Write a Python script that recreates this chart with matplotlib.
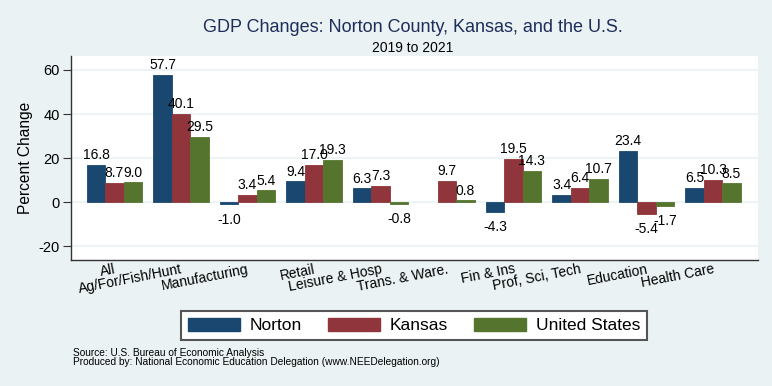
import numpy as np
import matplotlib
matplotlib.use("Agg")
import matplotlib.pyplot as plt
from matplotlib.patches import Patch

# Данные
categories = ["All", "Ag/For/Fish/Hunt", "Manufacturing", "Retail",
              "Leisure & Hosp", "Trans. & Ware.", "Fin & Ins",
              "Prof, Sci, Tech", "Education", "Health Care"]
norton = [16.8, 57.7, -1.0, 9.4, 6.3, np.nan, -4.3, 3.4, 23.4, 6.5]
kansas = [8.7, 40.1, 3.4, 17.0, 7.3, 9.7, 19.5, 6.4, -5.4, 10.3]
united_states = [9.0, 29.5, 5.4, 19.3, -0.8, 0.8, 14.3, 10.7, -1.7, 8.5]
series_names = ["Norton", "Kansas", "United States"]
y_ticks = [-20, 0, 20, 40, 60]

BG = "#EAF2F3"
COLORS = ["#1A476F", "#90353B", "#55752F"]
SANS = "Liberation Sans"
plt.rcParams["font.family"] = [SANS, "DejaVu Sans"]

fig = plt.figure(figsize=(7.72, 3.86), dpi=100, facecolor=BG)
ax = fig.add_axes([71 / 772, 1 - 260 / 386, 687 / 772, 204 / 386])
ax.set_facecolor("white")

x = np.arange(len(categories))
w = 0.276

for k, (vals, col) in enumerate(zip([norton, kansas, united_states], COLORS)):
    vals = np.array(vals, dtype=float)
    pos = x + (k - 1) * w
    ok = ~np.isnan(vals)
    ax.bar(pos[ok], vals[ok], w, color=col, edgecolor=col,
           linewidth=0.6, zorder=3)
    # Подписи значений
    for xi, v in zip(pos[ok], vals[ok]):
        if v >= 0:
            ax.annotate(f"{v:.1f}", (xi, v), xytext=(0, 2),
                        textcoords="offset points", ha="center", va="bottom",
                        fontsize=10, zorder=4)
        else:
            ax.annotate(f"{v:.1f}", (xi, v), xytext=(0, -6),
                        textcoords="offset points", ha="center", va="top",
                        fontsize=10, zorder=4)

ax.set_xlim(-0.654, len(categories) - 1 + 0.677)
ax.set_ylim(-26.2, 66.3)
ax.set_yticks(y_ticks)
ax.set_yticklabels([str(t) for t in y_ticks], fontsize=10.5)
ax.grid(True, axis="y", color=BG, linewidth=1.2, zorder=0)
ax.set_axisbelow(True)

ax.set_xticks(x)
ax.set_xticklabels(categories, rotation=11, ha="right", va="top",
                   rotation_mode="anchor", fontsize=10)
ax.tick_params(axis="x", length=0, pad=1.5)
ax.tick_params(axis="y", length=6, width=0.8, pad=2, color="#333333")

ax.set_ylabel("Percent Change", fontsize=11.2, labelpad=4)

for s in ["top", "right"]:
    ax.spines[s].set_visible(False)
for s in ["left", "bottom"]:
    ax.spines[s].set_color("#333333")
    ax.spines[s].set_linewidth(1.0)

fig.text(413 / 772, 1 - 31.5 / 386,
         "GDP Changes: Norton County, Kansas, and the U.S.",
         ha="center", va="baseline", fontsize=13, color="#1E2D5A")
fig.text(413 / 772, 1 - 51.7 / 386, "2019 to 2021",
         ha="center", va="baseline", fontsize=10, color="black")

handles = [Patch(facecolor=c, edgecolor=c) for c in COLORS]
leg = fig.legend(handles, series_names, loc="center",
                 bbox_to_anchor=(414 / 772, 1 - 325.5 / 386), ncol=3,
                 prop={"size": 12.5},
                 frameon=True, fancybox=False, handlelength=3.0,
                 handleheight=0.75, handletextpad=0.55, columnspacing=1.5,
                 borderpad=0.4, borderaxespad=0)
leg.get_frame().set_edgecolor("#555555")
leg.get_frame().set_linewidth(1.5)
leg.get_frame().set_facecolor("white")
leg.get_frame().set_alpha(1)

fig.text(73 / 772, 1 - 356.5 / 386, "Source: U.S. Bureau of Economic Analysis",
         ha="left", va="baseline", fontsize=7.3)
fig.text(73 / 772, 1 - 365 / 386,
         "Produced by: National Economic Education Delegation (www.NEEDelegation.org)",
         ha="left", va="baseline", fontsize=7.3)

fig.savefig("out.png", dpi=100, facecolor=BG)
